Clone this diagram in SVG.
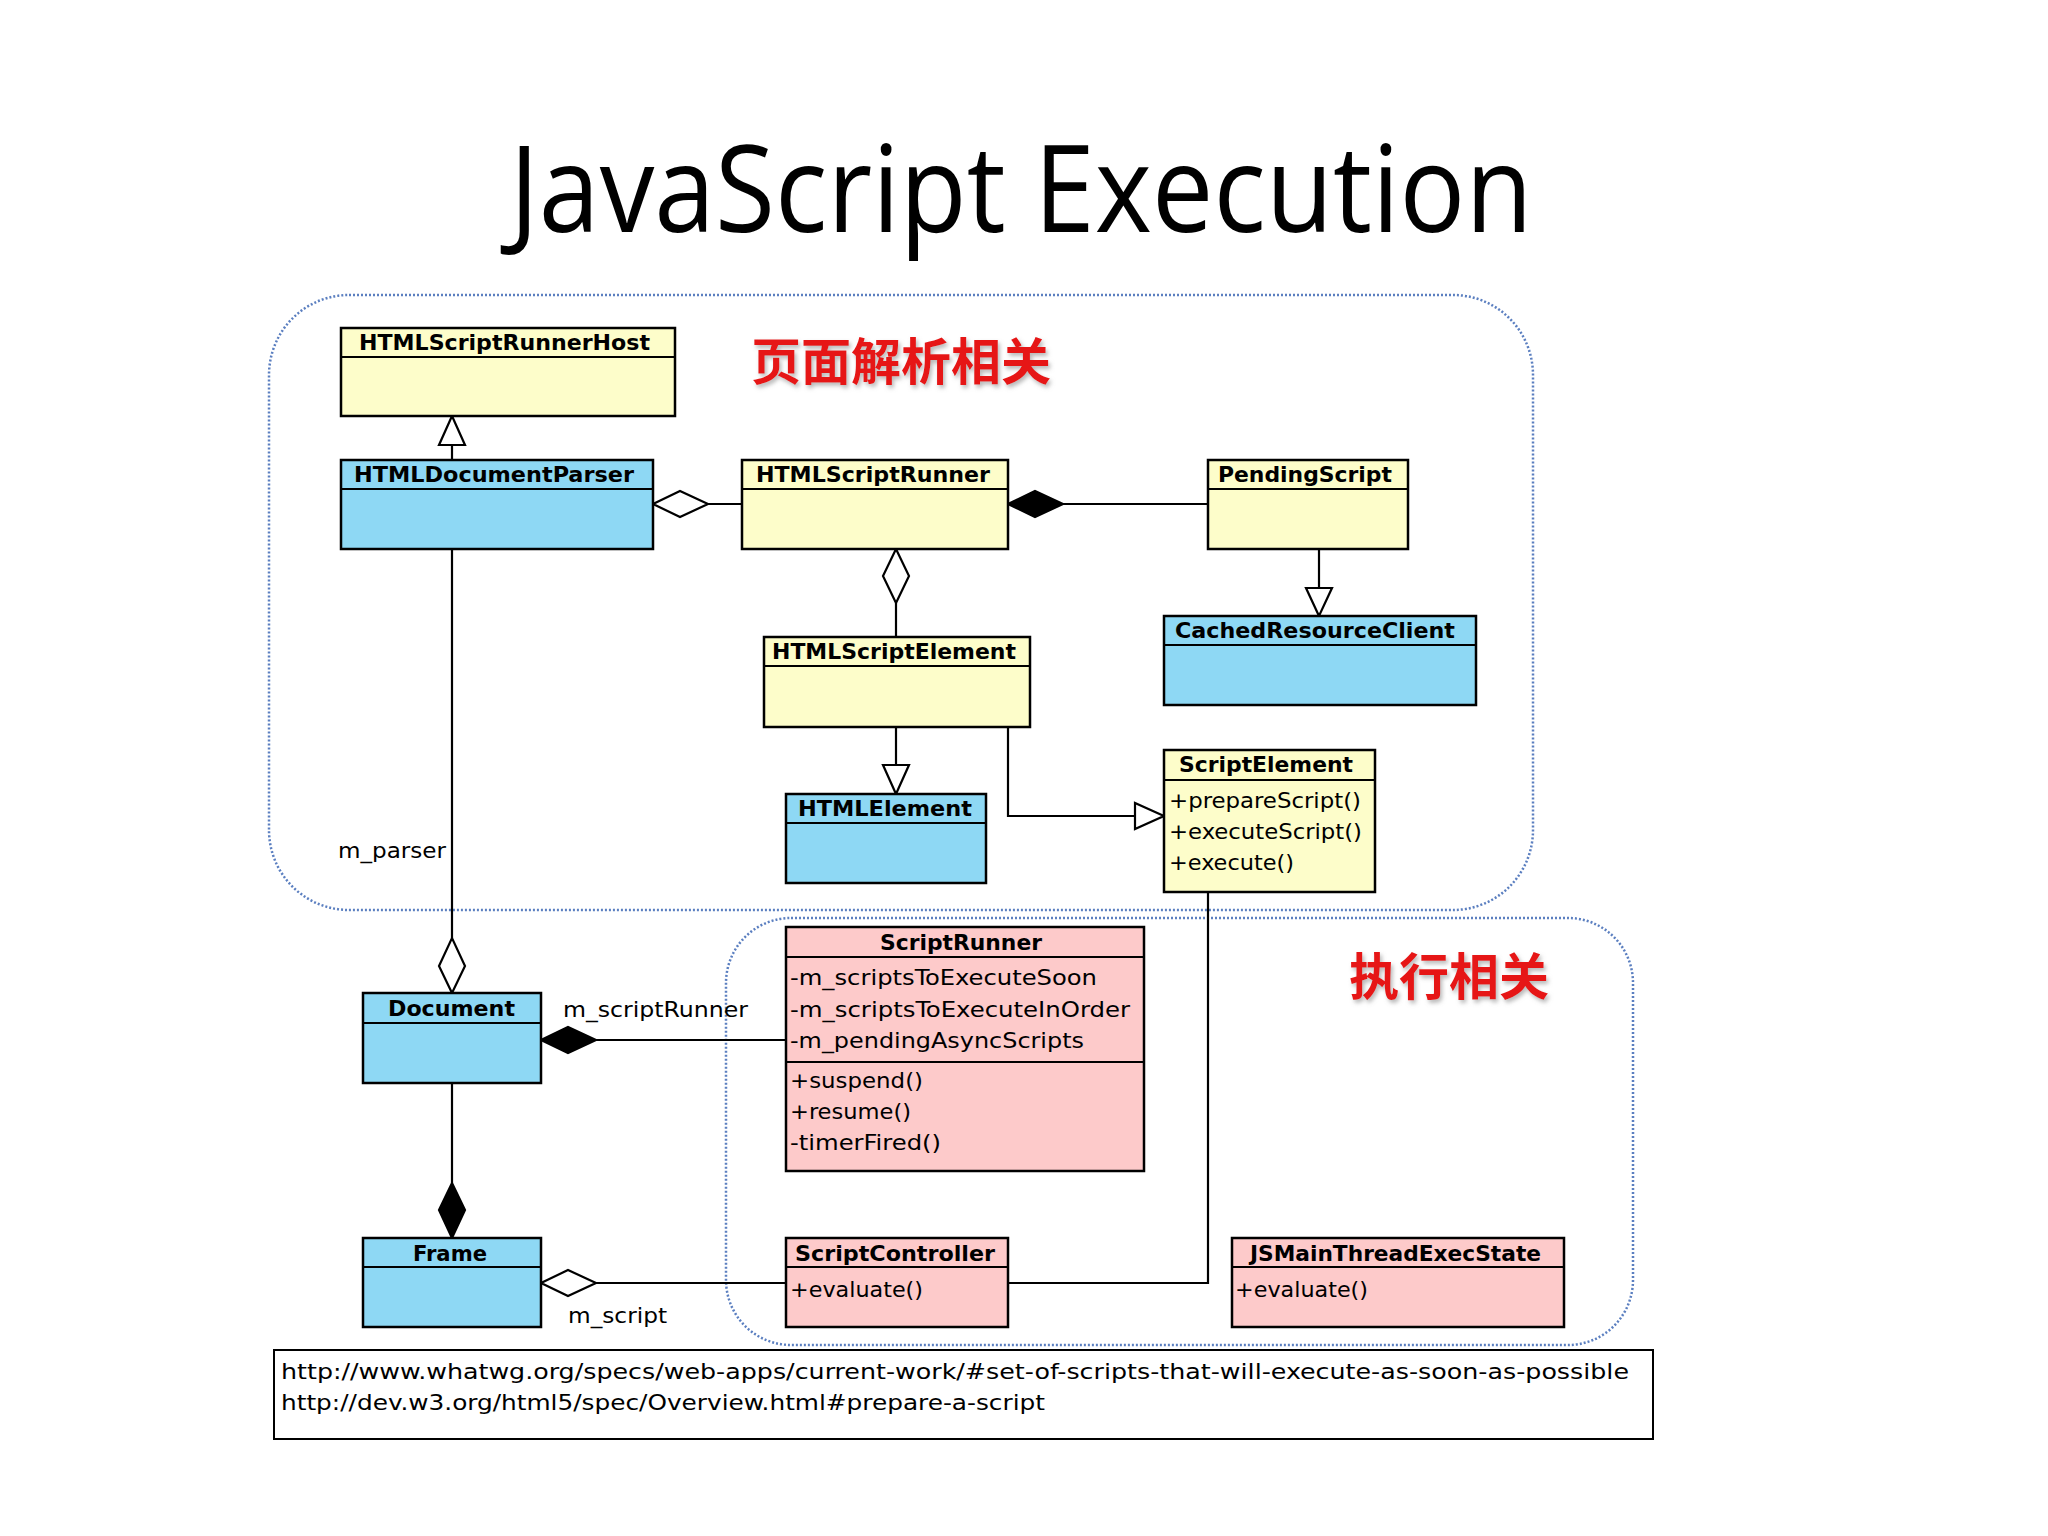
<svg xmlns="http://www.w3.org/2000/svg" width="2048" height="1536" viewBox="0 0 2048 1536">
<style>
.y{fill:#fdfdca;stroke:#000;stroke-width:2.5}
.b{fill:#8ed8f4;stroke:#000;stroke-width:2.5}
.p{fill:#fdcaca;stroke:#000;stroke-width:2.5}
.h{font-family:"DejaVu Sans Condensed","DejaVu Sans",sans-serif;font-weight:bold;font-size:22px;fill:#000}
.t{font-family:"DejaVu Sans Condensed","DejaVu Sans",sans-serif;font-size:22px;fill:#000}
.l{stroke:#000;stroke-width:2.2;fill:none}
.grp{fill:none;stroke:#5b7fc0;stroke-width:2.5;stroke-dasharray:2 2}
.cn{font-family:"Noto Sans CJK SC",sans-serif;font-weight:bold;font-size:50px;fill:#e61919}
</style>
<defs>
<filter id="sh"><feDropShadow dx="2" dy="3" stdDeviation="2" flood-color="#888" flood-opacity="0.6"/></filter>
</defs>
<rect width="2048" height="1536" fill="#fff"/>
<text x="1021" y="232" text-anchor="middle" font-family="'Open Sans',sans-serif" font-size="120" textLength="1023" lengthAdjust="spacingAndGlyphs">JavaScript Execution</text>
<rect class="grp" x="269" y="295" width="1264" height="615" rx="80"/>
<rect class="grp" x="726" y="918" width="907" height="427" rx="65"/>
<text class="cn" x="751" y="380" textLength="300" lengthAdjust="spacingAndGlyphs" filter="url(#sh)">页面解析相关</text>
<text class="cn" x="1349" y="995" textLength="200" lengthAdjust="spacingAndGlyphs" filter="url(#sh)">执行相关</text>
<g id="connectors">
<path class="l" d="M452 460V445"/><polygon points="452,416 439,445 465,445" fill="#fff" stroke="#000" stroke-width="2.2"/>
<path class="l" d="M708 504H742"/><polygon points="653,504 680,491 708,504 680,517" fill="#fff" stroke="#000" stroke-width="2.2"/>
<path class="l" d="M1063 504H1208"/><polygon points="1008,504 1035,491 1063,504 1035,517" fill="#000" stroke="#000" stroke-width="2.2"/>
<path class="l" d="M1319 549V588"/><polygon points="1319,616 1306,588 1332,588" fill="#fff" stroke="#000" stroke-width="2.2"/>
<path class="l" d="M896 603V637"/><polygon points="896,549 909,576 896,603 883,576" fill="#fff" stroke="#000" stroke-width="2.2"/>
<path class="l" d="M896 727V765"/><polygon points="896,794 883,765 909,765" fill="#fff" stroke="#000" stroke-width="2.2"/>
<path class="l" d="M1008 727V816H1135"/><polygon points="1164,816 1135,803 1135,829" fill="#fff" stroke="#000" stroke-width="2.2"/>
<path class="l" d="M452 549V938"/><polygon points="452,993 439,966 452,938 465,966" fill="#fff" stroke="#000" stroke-width="2.2"/>
<path class="l" d="M596 1040H786"/><polygon points="541,1040 568,1027 596,1040 568,1053" fill="#000" stroke="#000" stroke-width="2.2"/>
<path class="l" d="M452 1083V1183"/><polygon points="452,1238 439,1210 452,1183 465,1210" fill="#000" stroke="#000" stroke-width="2.2"/>
<path class="l" d="M596 1283H786"/><polygon points="541,1283 568,1270 596,1283 568,1296" fill="#fff" stroke="#000" stroke-width="2.2"/>
<path class="l" d="M1008 1283H1208V892"/>
<text class="t" x="338" y="858" textLength="108" lengthAdjust="spacingAndGlyphs">m_parser</text>
<text class="t" x="563" y="1017" textLength="185" lengthAdjust="spacingAndGlyphs">m_scriptRunner</text>
<text class="t" x="568" y="1323" textLength="99" lengthAdjust="spacingAndGlyphs">m_script</text>
</g>
<g id="HTMLScriptRunnerHost"><rect class="y" x="341" y="328" width="334" height="88"/><path class="l" d="M341 357H675"/><text class="h" x="359" y="350" textLength="291" lengthAdjust="spacingAndGlyphs">HTMLScriptRunnerHost</text></g>
<g id="HTMLDocumentParser"><rect class="b" x="341" y="460" width="312" height="89"/><path class="l" d="M341 489H653"/><text class="h" x="354" y="482" textLength="280" lengthAdjust="spacingAndGlyphs">HTMLDocumentParser</text></g>
<g id="HTMLScriptRunner"><rect class="y" x="742" y="460" width="266" height="89"/><path class="l" d="M742 489H1008"/><text class="h" x="756" y="482" textLength="234" lengthAdjust="spacingAndGlyphs">HTMLScriptRunner</text></g>
<g id="PendingScript"><rect class="y" x="1208" y="460" width="200" height="89"/><path class="l" d="M1208 489H1408"/><text class="h" x="1218" y="482" textLength="174" lengthAdjust="spacingAndGlyphs">PendingScript</text></g>
<g id="CachedResourceClient"><rect class="b" x="1164" y="616" width="312" height="89"/><path class="l" d="M1164 645H1476"/><text class="h" x="1175" y="638" textLength="280" lengthAdjust="spacingAndGlyphs">CachedResourceClient</text></g>
<g id="HTMLScriptElement"><rect class="y" x="764" y="637" width="266" height="90"/><path class="l" d="M764 666H1030"/><text class="h" x="772" y="659" textLength="244" lengthAdjust="spacingAndGlyphs">HTMLScriptElement</text></g>
<g id="HTMLElement"><rect class="b" x="786" y="794" width="200" height="89"/><path class="l" d="M786 823H986"/><text class="h" x="798" y="816" textLength="174" lengthAdjust="spacingAndGlyphs">HTMLElement</text></g>
<g id="ScriptElement"><rect class="y" x="1164" y="750" width="211" height="142"/><path class="l" d="M1164 780H1375"/><text class="h" x="1179" y="772" textLength="174" lengthAdjust="spacingAndGlyphs">ScriptElement</text>
<text class="t" x="1169" y="808" textLength="192" lengthAdjust="spacingAndGlyphs">+prepareScript()</text>
<text class="t" x="1169" y="839" textLength="193" lengthAdjust="spacingAndGlyphs">+executeScript()</text>
<text class="t" x="1169" y="870" textLength="125" lengthAdjust="spacingAndGlyphs">+execute()</text></g>
<g id="ScriptRunner"><rect class="p" x="786" y="927" width="358" height="244"/><path class="l" d="M786 957H1144M786 1062H1144"/><text class="h" x="880" y="950" textLength="162" lengthAdjust="spacingAndGlyphs">ScriptRunner</text>
<text class="t" x="790" y="985" textLength="307" lengthAdjust="spacingAndGlyphs">-m_scriptsToExecuteSoon</text>
<text class="t" x="790" y="1017" textLength="340" lengthAdjust="spacingAndGlyphs">-m_scriptsToExecuteInOrder</text>
<text class="t" x="790" y="1048" textLength="294" lengthAdjust="spacingAndGlyphs">-m_pendingAsyncScripts</text>
<text class="t" x="790" y="1088" textLength="133" lengthAdjust="spacingAndGlyphs">+suspend()</text>
<text class="t" x="790" y="1119" textLength="121" lengthAdjust="spacingAndGlyphs">+resume()</text>
<text class="t" x="790" y="1150" textLength="151" lengthAdjust="spacingAndGlyphs">-timerFired()</text></g>
<g id="Document"><rect class="b" x="363" y="993" width="178" height="90"/><path class="l" d="M363 1023H541"/><text class="h" x="388" y="1016" textLength="127" lengthAdjust="spacingAndGlyphs">Document</text></g>
<g id="Frame"><rect class="b" x="363" y="1238" width="178" height="89"/><path class="l" d="M363 1267H541"/><text class="h" x="413" y="1261" textLength="74" lengthAdjust="spacingAndGlyphs">Frame</text></g>
<g id="ScriptController"><rect class="p" x="786" y="1238" width="222" height="89"/><path class="l" d="M786 1267H1008"/><text class="h" x="795" y="1261" textLength="200" lengthAdjust="spacingAndGlyphs">ScriptController</text>
<text class="t" x="790" y="1297" textLength="133" lengthAdjust="spacingAndGlyphs">+evaluate()</text></g>
<g id="JSMainThreadExecState"><rect class="p" x="1232" y="1238" width="332" height="89"/><path class="l" d="M1232 1267H1564"/><text class="h" x="1250" y="1261" textLength="291" lengthAdjust="spacingAndGlyphs">JSMainThreadExecState</text>
<text class="t" x="1235" y="1297" textLength="133" lengthAdjust="spacingAndGlyphs">+evaluate()</text></g>
<g id="links"><rect x="274" y="1350" width="1379" height="89" fill="#fff" stroke="#000" stroke-width="2"/>
<text class="t" x="281" y="1379" textLength="1348" lengthAdjust="spacingAndGlyphs">http://www.whatwg.org/specs/web-apps/current-work/#set-of-scripts-that-will-execute-as-soon-as-possible</text>
<text class="t" x="281" y="1410" textLength="764" lengthAdjust="spacingAndGlyphs">http://dev.w3.org/html5/spec/Overview.html#prepare-a-script</text></g>
</svg>
